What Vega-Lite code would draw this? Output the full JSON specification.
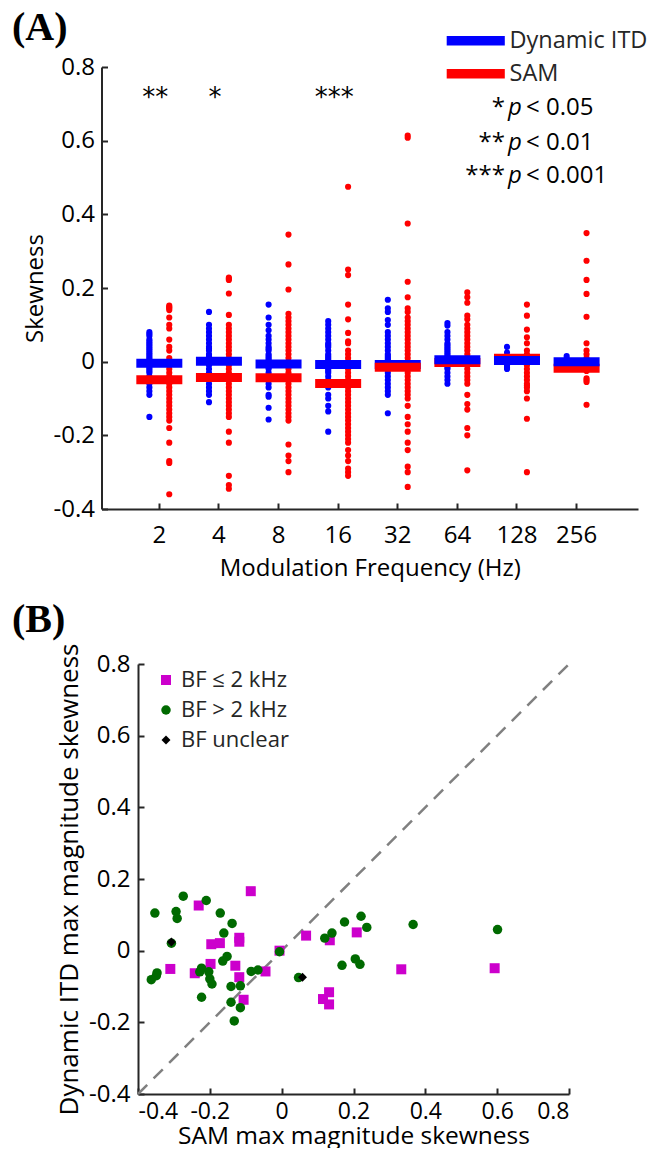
{
  "$schema": "https://vega.github.io/schema/vega-lite/v6.json",
  "background": "white",
  "padding": {"left": 12, "top": 8, "right": 0, "bottom": 0},
  "spacing": 20,
  "resolve": {"scale": {"color": "independent", "shape": "independent", "size": "independent"}, "legend": {"color": "independent", "shape": "independent"}},
  "config": {
    "view": {"stroke": null},
    "font": "Open Sans",
    "axis": {"domainColor": "#262626", "domainWidth": 2, "tickColor": "#262626", "tickWidth": 2, "tickSize": -6, "labelColor": "#000000", "titleColor": "#000000", "grid": false, "labelFont": "Open Sans", "titleFont": "Open Sans", "titleFontWeight": "normal"},
    "title": {"font": "Liberation Serif", "fontWeight": "bold", "fontSize": 40, "anchor": "start", "frame": "group", "color": "#000000", "baseline": "alphabetic"},
    "legend": {"padding": 0, "offset": 0}
  },
  "datasets": {
    "pts": [
      {"f":"2","s":"Dynamic ITD","v":0.08},{"f":"2","s":"Dynamic ITD","v":0.075},{"f":"2","s":"Dynamic ITD","v":0.07},{"f":"2","s":"Dynamic ITD","v":0.06},{"f":"2","s":"Dynamic ITD","v":0.055},{"f":"2","s":"Dynamic ITD","v":0.05},{"f":"2","s":"Dynamic ITD","v":0.045},{"f":"2","s":"Dynamic ITD","v":0.04},{"f":"2","s":"Dynamic ITD","v":0.035},{"f":"2","s":"Dynamic ITD","v":0.03},{"f":"2","s":"Dynamic ITD","v":0.025},{"f":"2","s":"Dynamic ITD","v":0.02},{"f":"2","s":"Dynamic ITD","v":0.015},{"f":"2","s":"Dynamic ITD","v":0.01},{"f":"2","s":"Dynamic ITD","v":0.005},{"f":"2","s":"Dynamic ITD","v":0.0},{"f":"2","s":"Dynamic ITD","v":0.0},{"f":"2","s":"Dynamic ITD","v":-0.005},{"f":"2","s":"Dynamic ITD","v":-0.01},{"f":"2","s":"Dynamic ITD","v":-0.015},{"f":"2","s":"Dynamic ITD","v":-0.02},{"f":"2","s":"Dynamic ITD","v":-0.025},{"f":"2","s":"Dynamic ITD","v":-0.03},{"f":"2","s":"Dynamic ITD","v":-0.04},{"f":"2","s":"Dynamic ITD","v":-0.05},{"f":"2","s":"Dynamic ITD","v":-0.06},{"f":"2","s":"Dynamic ITD","v":-0.07},{"f":"2","s":"Dynamic ITD","v":-0.08},{"f":"2","s":"Dynamic ITD","v":-0.09},{"f":"2","s":"Dynamic ITD","v":-0.15},
      {"f":"2","s":"SAM","v":0.152},{"f":"2","s":"SAM","v":0.148},{"f":"2","s":"SAM","v":0.145},{"f":"2","s":"SAM","v":0.14},{"f":"2","s":"SAM","v":0.12},{"f":"2","s":"SAM","v":0.1},{"f":"2","s":"SAM","v":0.09},{"f":"2","s":"SAM","v":0.06},{"f":"2","s":"SAM","v":0.04},{"f":"2","s":"SAM","v":0.03},{"f":"2","s":"SAM","v":0.01},{"f":"2","s":"SAM","v":0.0},{"f":"2","s":"SAM","v":-0.01},{"f":"2","s":"SAM","v":-0.02},{"f":"2","s":"SAM","v":-0.03},{"f":"2","s":"SAM","v":-0.04},{"f":"2","s":"SAM","v":-0.045},{"f":"2","s":"SAM","v":-0.05},{"f":"2","s":"SAM","v":-0.055},{"f":"2","s":"SAM","v":-0.06},{"f":"2","s":"SAM","v":-0.07},{"f":"2","s":"SAM","v":-0.08},{"f":"2","s":"SAM","v":-0.09},{"f":"2","s":"SAM","v":-0.1},{"f":"2","s":"SAM","v":-0.11},{"f":"2","s":"SAM","v":-0.12},{"f":"2","s":"SAM","v":-0.13},{"f":"2","s":"SAM","v":-0.14},{"f":"2","s":"SAM","v":-0.15},{"f":"2","s":"SAM","v":-0.16},{"f":"2","s":"SAM","v":-0.18},{"f":"2","s":"SAM","v":-0.22},{"f":"2","s":"SAM","v":-0.27},{"f":"2","s":"SAM","v":-0.275},{"f":"2","s":"SAM","v":-0.36},
      {"f":"4","s":"Dynamic ITD","v":0.135},{"f":"4","s":"Dynamic ITD","v":0.1},{"f":"4","s":"Dynamic ITD","v":0.09},{"f":"4","s":"Dynamic ITD","v":0.08},{"f":"4","s":"Dynamic ITD","v":0.07},{"f":"4","s":"Dynamic ITD","v":0.06},{"f":"4","s":"Dynamic ITD","v":0.05},{"f":"4","s":"Dynamic ITD","v":0.04},{"f":"4","s":"Dynamic ITD","v":0.035},{"f":"4","s":"Dynamic ITD","v":0.03},{"f":"4","s":"Dynamic ITD","v":0.02},{"f":"4","s":"Dynamic ITD","v":0.015},{"f":"4","s":"Dynamic ITD","v":0.01},{"f":"4","s":"Dynamic ITD","v":0.005},{"f":"4","s":"Dynamic ITD","v":0.0},{"f":"4","s":"Dynamic ITD","v":-0.005},{"f":"4","s":"Dynamic ITD","v":-0.01},{"f":"4","s":"Dynamic ITD","v":-0.02},{"f":"4","s":"Dynamic ITD","v":-0.03},{"f":"4","s":"Dynamic ITD","v":-0.04},{"f":"4","s":"Dynamic ITD","v":-0.06},{"f":"4","s":"Dynamic ITD","v":-0.07},{"f":"4","s":"Dynamic ITD","v":-0.08},{"f":"4","s":"Dynamic ITD","v":-0.09},{"f":"4","s":"Dynamic ITD","v":-0.11},
      {"f":"4","s":"SAM","v":0.228},{"f":"4","s":"SAM","v":0.225},{"f":"4","s":"SAM","v":0.222},{"f":"4","s":"SAM","v":0.185},{"f":"4","s":"SAM","v":0.127},{"f":"4","s":"SAM","v":0.1},{"f":"4","s":"SAM","v":0.09},{"f":"4","s":"SAM","v":0.08},{"f":"4","s":"SAM","v":0.07},{"f":"4","s":"SAM","v":0.06},{"f":"4","s":"SAM","v":0.05},{"f":"4","s":"SAM","v":0.04},{"f":"4","s":"SAM","v":0.03},{"f":"4","s":"SAM","v":0.02},{"f":"4","s":"SAM","v":0.01},{"f":"4","s":"SAM","v":0.0},{"f":"4","s":"SAM","v":-0.01},{"f":"4","s":"SAM","v":-0.02},{"f":"4","s":"SAM","v":-0.03},{"f":"4","s":"SAM","v":-0.04},{"f":"4","s":"SAM","v":-0.045},{"f":"4","s":"SAM","v":-0.05},{"f":"4","s":"SAM","v":-0.06},{"f":"4","s":"SAM","v":-0.07},{"f":"4","s":"SAM","v":-0.08},{"f":"4","s":"SAM","v":-0.09},{"f":"4","s":"SAM","v":-0.1},{"f":"4","s":"SAM","v":-0.11},{"f":"4","s":"SAM","v":-0.12},{"f":"4","s":"SAM","v":-0.13},{"f":"4","s":"SAM","v":-0.14},{"f":"4","s":"SAM","v":-0.15},{"f":"4","s":"SAM","v":-0.19},{"f":"4","s":"SAM","v":-0.22},{"f":"4","s":"SAM","v":-0.31},{"f":"4","s":"SAM","v":-0.335},{"f":"4","s":"SAM","v":-0.345},
      {"f":"8","s":"Dynamic ITD","v":0.155},{"f":"8","s":"Dynamic ITD","v":0.12},{"f":"8","s":"Dynamic ITD","v":0.1},{"f":"8","s":"Dynamic ITD","v":0.085},{"f":"8","s":"Dynamic ITD","v":0.07},{"f":"8","s":"Dynamic ITD","v":0.06},{"f":"8","s":"Dynamic ITD","v":0.05},{"f":"8","s":"Dynamic ITD","v":0.04},{"f":"8","s":"Dynamic ITD","v":0.035},{"f":"8","s":"Dynamic ITD","v":0.03},{"f":"8","s":"Dynamic ITD","v":0.02},{"f":"8","s":"Dynamic ITD","v":0.015},{"f":"8","s":"Dynamic ITD","v":0.01},{"f":"8","s":"Dynamic ITD","v":0.005},{"f":"8","s":"Dynamic ITD","v":0.0},{"f":"8","s":"Dynamic ITD","v":-0.005},{"f":"8","s":"Dynamic ITD","v":-0.01},{"f":"8","s":"Dynamic ITD","v":-0.015},{"f":"8","s":"Dynamic ITD","v":-0.02},{"f":"8","s":"Dynamic ITD","v":-0.03},{"f":"8","s":"Dynamic ITD","v":-0.04},{"f":"8","s":"Dynamic ITD","v":-0.05},{"f":"8","s":"Dynamic ITD","v":-0.06},{"f":"8","s":"Dynamic ITD","v":-0.07},{"f":"8","s":"Dynamic ITD","v":-0.09},{"f":"8","s":"Dynamic ITD","v":-0.095},{"f":"8","s":"Dynamic ITD","v":-0.125},{"f":"8","s":"Dynamic ITD","v":-0.157},
      {"f":"8","s":"SAM","v":0.345},{"f":"8","s":"SAM","v":0.264},{"f":"8","s":"SAM","v":0.196},{"f":"8","s":"SAM","v":0.13},{"f":"8","s":"SAM","v":0.12},{"f":"8","s":"SAM","v":0.11},{"f":"8","s":"SAM","v":0.1},{"f":"8","s":"SAM","v":0.09},{"f":"8","s":"SAM","v":0.08},{"f":"8","s":"SAM","v":0.07},{"f":"8","s":"SAM","v":0.06},{"f":"8","s":"SAM","v":0.05},{"f":"8","s":"SAM","v":0.04},{"f":"8","s":"SAM","v":0.03},{"f":"8","s":"SAM","v":0.02},{"f":"8","s":"SAM","v":0.01},{"f":"8","s":"SAM","v":0.0},{"f":"8","s":"SAM","v":-0.01},{"f":"8","s":"SAM","v":-0.02},{"f":"8","s":"SAM","v":-0.03},{"f":"8","s":"SAM","v":-0.04},{"f":"8","s":"SAM","v":-0.05},{"f":"8","s":"SAM","v":-0.06},{"f":"8","s":"SAM","v":-0.07},{"f":"8","s":"SAM","v":-0.08},{"f":"8","s":"SAM","v":-0.09},{"f":"8","s":"SAM","v":-0.1},{"f":"8","s":"SAM","v":-0.11},{"f":"8","s":"SAM","v":-0.12},{"f":"8","s":"SAM","v":-0.13},{"f":"8","s":"SAM","v":-0.14},{"f":"8","s":"SAM","v":-0.15},{"f":"8","s":"SAM","v":-0.16},{"f":"8","s":"SAM","v":-0.225},{"f":"8","s":"SAM","v":-0.255},{"f":"8","s":"SAM","v":-0.27},{"f":"8","s":"SAM","v":-0.3},
      {"f":"16","s":"Dynamic ITD","v":0.11},{"f":"16","s":"Dynamic ITD","v":0.1},{"f":"16","s":"Dynamic ITD","v":0.09},{"f":"16","s":"Dynamic ITD","v":0.08},{"f":"16","s":"Dynamic ITD","v":0.07},{"f":"16","s":"Dynamic ITD","v":0.06},{"f":"16","s":"Dynamic ITD","v":0.05},{"f":"16","s":"Dynamic ITD","v":0.045},{"f":"16","s":"Dynamic ITD","v":0.04},{"f":"16","s":"Dynamic ITD","v":0.03},{"f":"16","s":"Dynamic ITD","v":0.02},{"f":"16","s":"Dynamic ITD","v":0.015},{"f":"16","s":"Dynamic ITD","v":0.01},{"f":"16","s":"Dynamic ITD","v":0.005},{"f":"16","s":"Dynamic ITD","v":0.0},{"f":"16","s":"Dynamic ITD","v":-0.005},{"f":"16","s":"Dynamic ITD","v":-0.01},{"f":"16","s":"Dynamic ITD","v":-0.02},{"f":"16","s":"Dynamic ITD","v":-0.025},{"f":"16","s":"Dynamic ITD","v":-0.03},{"f":"16","s":"Dynamic ITD","v":-0.04},{"f":"16","s":"Dynamic ITD","v":-0.05},{"f":"16","s":"Dynamic ITD","v":-0.06},{"f":"16","s":"Dynamic ITD","v":-0.07},{"f":"16","s":"Dynamic ITD","v":-0.09},{"f":"16","s":"Dynamic ITD","v":-0.1},{"f":"16","s":"Dynamic ITD","v":-0.12},{"f":"16","s":"Dynamic ITD","v":-0.135},{"f":"16","s":"Dynamic ITD","v":-0.19},
      {"f":"16","s":"SAM","v":0.475},{"f":"16","s":"SAM","v":0.25},{"f":"16","s":"SAM","v":0.235},{"f":"16","s":"SAM","v":0.155},{"f":"16","s":"SAM","v":0.115},{"f":"16","s":"SAM","v":0.078},{"f":"16","s":"SAM","v":0.055},{"f":"16","s":"SAM","v":0.05},{"f":"16","s":"SAM","v":0.03},{"f":"16","s":"SAM","v":0.02},{"f":"16","s":"SAM","v":0.01},{"f":"16","s":"SAM","v":0.0},{"f":"16","s":"SAM","v":-0.01},{"f":"16","s":"SAM","v":-0.02},{"f":"16","s":"SAM","v":-0.03},{"f":"16","s":"SAM","v":-0.04},{"f":"16","s":"SAM","v":-0.05},{"f":"16","s":"SAM","v":-0.055},{"f":"16","s":"SAM","v":-0.06},{"f":"16","s":"SAM","v":-0.065},{"f":"16","s":"SAM","v":-0.07},{"f":"16","s":"SAM","v":-0.08},{"f":"16","s":"SAM","v":-0.09},{"f":"16","s":"SAM","v":-0.1},{"f":"16","s":"SAM","v":-0.11},{"f":"16","s":"SAM","v":-0.12},{"f":"16","s":"SAM","v":-0.13},{"f":"16","s":"SAM","v":-0.14},{"f":"16","s":"SAM","v":-0.15},{"f":"16","s":"SAM","v":-0.16},{"f":"16","s":"SAM","v":-0.17},{"f":"16","s":"SAM","v":-0.18},{"f":"16","s":"SAM","v":-0.19},{"f":"16","s":"SAM","v":-0.2},{"f":"16","s":"SAM","v":-0.21},{"f":"16","s":"SAM","v":-0.22},{"f":"16","s":"SAM","v":-0.24},{"f":"16","s":"SAM","v":-0.255},{"f":"16","s":"SAM","v":-0.27},{"f":"16","s":"SAM","v":-0.29},{"f":"16","s":"SAM","v":-0.3},{"f":"16","s":"SAM","v":-0.31},
      {"f":"32","s":"Dynamic ITD","v":0.168},{"f":"32","s":"Dynamic ITD","v":0.145},{"f":"32","s":"Dynamic ITD","v":0.135},{"f":"32","s":"Dynamic ITD","v":0.113},{"f":"32","s":"Dynamic ITD","v":0.1},{"f":"32","s":"Dynamic ITD","v":0.08},{"f":"32","s":"Dynamic ITD","v":0.07},{"f":"32","s":"Dynamic ITD","v":0.06},{"f":"32","s":"Dynamic ITD","v":0.05},{"f":"32","s":"Dynamic ITD","v":0.04},{"f":"32","s":"Dynamic ITD","v":0.03},{"f":"32","s":"Dynamic ITD","v":0.02},{"f":"32","s":"Dynamic ITD","v":0.015},{"f":"32","s":"Dynamic ITD","v":0.01},{"f":"32","s":"Dynamic ITD","v":0.005},{"f":"32","s":"Dynamic ITD","v":0.0},{"f":"32","s":"Dynamic ITD","v":-0.005},{"f":"32","s":"Dynamic ITD","v":-0.01},{"f":"32","s":"Dynamic ITD","v":-0.02},{"f":"32","s":"Dynamic ITD","v":-0.03},{"f":"32","s":"Dynamic ITD","v":-0.04},{"f":"32","s":"Dynamic ITD","v":-0.05},{"f":"32","s":"Dynamic ITD","v":-0.06},{"f":"32","s":"Dynamic ITD","v":-0.07},{"f":"32","s":"Dynamic ITD","v":-0.08},{"f":"32","s":"Dynamic ITD","v":-0.09},{"f":"32","s":"Dynamic ITD","v":-0.14},
      {"f":"32","s":"SAM","v":0.614},{"f":"32","s":"SAM","v":0.608},{"f":"32","s":"SAM","v":0.375},{"f":"32","s":"SAM","v":0.217},{"f":"32","s":"SAM","v":0.175},{"f":"32","s":"SAM","v":0.145},{"f":"32","s":"SAM","v":0.135},{"f":"32","s":"SAM","v":0.12},{"f":"32","s":"SAM","v":0.11},{"f":"32","s":"SAM","v":0.1},{"f":"32","s":"SAM","v":0.09},{"f":"32","s":"SAM","v":0.08},{"f":"32","s":"SAM","v":0.07},{"f":"32","s":"SAM","v":0.06},{"f":"32","s":"SAM","v":0.05},{"f":"32","s":"SAM","v":0.04},{"f":"32","s":"SAM","v":0.03},{"f":"32","s":"SAM","v":0.02},{"f":"32","s":"SAM","v":0.01},{"f":"32","s":"SAM","v":0.0},{"f":"32","s":"SAM","v":-0.005},{"f":"32","s":"SAM","v":-0.01},{"f":"32","s":"SAM","v":-0.02},{"f":"32","s":"SAM","v":-0.03},{"f":"32","s":"SAM","v":-0.04},{"f":"32","s":"SAM","v":-0.05},{"f":"32","s":"SAM","v":-0.06},{"f":"32","s":"SAM","v":-0.07},{"f":"32","s":"SAM","v":-0.08},{"f":"32","s":"SAM","v":-0.09},{"f":"32","s":"SAM","v":-0.1},{"f":"32","s":"SAM","v":-0.12},{"f":"32","s":"SAM","v":-0.15},{"f":"32","s":"SAM","v":-0.17},{"f":"32","s":"SAM","v":-0.19},{"f":"32","s":"SAM","v":-0.22},{"f":"32","s":"SAM","v":-0.24},{"f":"32","s":"SAM","v":-0.285},{"f":"32","s":"SAM","v":-0.3},{"f":"32","s":"SAM","v":-0.34},
      {"f":"64","s":"Dynamic ITD","v":0.105},{"f":"64","s":"Dynamic ITD","v":0.098},{"f":"64","s":"Dynamic ITD","v":0.08},{"f":"64","s":"Dynamic ITD","v":0.07},{"f":"64","s":"Dynamic ITD","v":0.06},{"f":"64","s":"Dynamic ITD","v":0.05},{"f":"64","s":"Dynamic ITD","v":0.045},{"f":"64","s":"Dynamic ITD","v":0.04},{"f":"64","s":"Dynamic ITD","v":0.035},{"f":"64","s":"Dynamic ITD","v":0.03},{"f":"64","s":"Dynamic ITD","v":0.025},{"f":"64","s":"Dynamic ITD","v":0.02},{"f":"64","s":"Dynamic ITD","v":0.015},{"f":"64","s":"Dynamic ITD","v":0.01},{"f":"64","s":"Dynamic ITD","v":0.005},{"f":"64","s":"Dynamic ITD","v":0.0},{"f":"64","s":"Dynamic ITD","v":-0.005},{"f":"64","s":"Dynamic ITD","v":-0.01},{"f":"64","s":"Dynamic ITD","v":-0.015},{"f":"64","s":"Dynamic ITD","v":-0.02},{"f":"64","s":"Dynamic ITD","v":-0.03},{"f":"64","s":"Dynamic ITD","v":-0.04},{"f":"64","s":"Dynamic ITD","v":-0.05},{"f":"64","s":"Dynamic ITD","v":-0.06},
      {"f":"64","s":"SAM","v":0.188},{"f":"64","s":"SAM","v":0.175},{"f":"64","s":"SAM","v":0.16},{"f":"64","s":"SAM","v":0.125},{"f":"64","s":"SAM","v":0.115},{"f":"64","s":"SAM","v":0.1},{"f":"64","s":"SAM","v":0.09},{"f":"64","s":"SAM","v":0.08},{"f":"64","s":"SAM","v":0.07},{"f":"64","s":"SAM","v":0.06},{"f":"64","s":"SAM","v":0.05},{"f":"64","s":"SAM","v":0.04},{"f":"64","s":"SAM","v":0.03},{"f":"64","s":"SAM","v":0.02},{"f":"64","s":"SAM","v":0.01},{"f":"64","s":"SAM","v":0.0},{"f":"64","s":"SAM","v":-0.01},{"f":"64","s":"SAM","v":-0.02},{"f":"64","s":"SAM","v":-0.03},{"f":"64","s":"SAM","v":-0.04},{"f":"64","s":"SAM","v":-0.05},{"f":"64","s":"SAM","v":-0.06},{"f":"64","s":"SAM","v":-0.09},{"f":"64","s":"SAM","v":-0.115},{"f":"64","s":"SAM","v":-0.13},{"f":"64","s":"SAM","v":-0.18},{"f":"64","s":"SAM","v":-0.2},{"f":"64","s":"SAM","v":-0.295},
      {"f":"128","s":"Dynamic ITD","v":0.04},{"f":"128","s":"Dynamic ITD","v":0.025},{"f":"128","s":"Dynamic ITD","v":0.015},{"f":"128","s":"Dynamic ITD","v":0.005},{"f":"128","s":"Dynamic ITD","v":0.0},{"f":"128","s":"Dynamic ITD","v":-0.005},{"f":"128","s":"Dynamic ITD","v":-0.01},{"f":"128","s":"Dynamic ITD","v":-0.015},{"f":"128","s":"Dynamic ITD","v":-0.02},
      {"f":"128","s":"SAM","v":0.155},{"f":"128","s":"SAM","v":0.125},{"f":"128","s":"SAM","v":0.087},{"f":"128","s":"SAM","v":0.066},{"f":"128","s":"SAM","v":0.05},{"f":"128","s":"SAM","v":0.03},{"f":"128","s":"SAM","v":0.02},{"f":"128","s":"SAM","v":0.015},{"f":"128","s":"SAM","v":0.01},{"f":"128","s":"SAM","v":0.005},{"f":"128","s":"SAM","v":0.0},{"f":"128","s":"SAM","v":-0.01},{"f":"128","s":"SAM","v":-0.02},{"f":"128","s":"SAM","v":-0.03},{"f":"128","s":"SAM","v":-0.04},{"f":"128","s":"SAM","v":-0.05},{"f":"128","s":"SAM","v":-0.06},{"f":"128","s":"SAM","v":-0.065},{"f":"128","s":"SAM","v":-0.07},{"f":"128","s":"SAM","v":-0.08},{"f":"128","s":"SAM","v":-0.1},{"f":"128","s":"SAM","v":-0.155},{"f":"128","s":"SAM","v":-0.3},
      {"f":"256","s":"Dynamic ITD","v":0.015},{"f":"256","s":"Dynamic ITD","v":0.008},{"f":"256","s":"Dynamic ITD","v":0.0},{"f":"256","s":"Dynamic ITD","v":-0.005},{"f":"256","s":"Dynamic ITD","v":-0.01},{"f":"256","s":"Dynamic ITD","v":-0.015},
      {"f":"256","s":"SAM","v":0.349},{"f":"256","s":"SAM","v":0.274},{"f":"256","s":"SAM","v":0.222},{"f":"256","s":"SAM","v":0.184},{"f":"256","s":"SAM","v":0.122},{"f":"256","s":"SAM","v":0.05},{"f":"256","s":"SAM","v":0.03},{"f":"256","s":"SAM","v":0.02},{"f":"256","s":"SAM","v":0.01},{"f":"256","s":"SAM","v":0.0},{"f":"256","s":"SAM","v":-0.01},{"f":"256","s":"SAM","v":-0.015},{"f":"256","s":"SAM","v":-0.02},{"f":"256","s":"SAM","v":-0.025},{"f":"256","s":"SAM","v":-0.045},{"f":"256","s":"SAM","v":-0.05},{"f":"256","s":"SAM","v":-0.055},{"f":"256","s":"SAM","v":-0.117}
    ],
    "med": [
      {"f":"2","s":"Dynamic ITD","v":-0.004},{"f":"2","s":"SAM","v":-0.049},
      {"f":"4","s":"Dynamic ITD","v":0.001},{"f":"4","s":"SAM","v":-0.043},
      {"f":"8","s":"Dynamic ITD","v":-0.006},{"f":"8","s":"SAM","v":-0.044},
      {"f":"16","s":"Dynamic ITD","v":-0.008},{"f":"16","s":"SAM","v":-0.059},
      {"f":"32","s":"Dynamic ITD","v":-0.008},{"f":"32","s":"SAM","v":-0.015},
      {"f":"64","s":"SAM","v":-0.002},{"f":"64","s":"Dynamic ITD","v":0.005},
      {"f":"128","s":"SAM","v":0.009},{"f":"128","s":"Dynamic ITD","v":0.003},
      {"f":"256","s":"SAM","v":-0.018},{"f":"256","s":"Dynamic ITD","v":0.0}
    ],
    "stars": [
      {"f":"2","label":"**"},{"f":"4","label":"*"},{"f":"16","label":"***"}
    ],
    "plab": [
      {"stars":"*","rest":"< 0.05","v":0.69},
      {"stars":"**","rest":"< 0.01","v":0.595},
      {"stars":"***","rest":"< 0.001","v":0.503}
    ],
    "diag": [{"x":-0.4,"y":-0.4,"x2":0.8,"y2":0.8}],
    "bf": [
      {"g":"BF ≤ 2 kHz","x":-0.086,"y":0.166},{"g":"BF ≤ 2 kHz","x":-0.231,"y":0.126},{"g":"BF ≤ 2 kHz","x":-0.196,"y":0.018},{"g":"BF ≤ 2 kHz","x":-0.172,"y":0.021},{"g":"BF ≤ 2 kHz","x":-0.118,"y":0.036},{"g":"BF ≤ 2 kHz","x":-0.118,"y":0.025},{"g":"BF ≤ 2 kHz","x":-0.31,"y":-0.051},{"g":"BF ≤ 2 kHz","x":-0.242,"y":-0.063},{"g":"BF ≤ 2 kHz","x":-0.198,"y":-0.037},{"g":"BF ≤ 2 kHz","x":-0.129,"y":-0.042},{"g":"BF ≤ 2 kHz","x":-0.118,"y":-0.074},{"g":"BF ≤ 2 kHz","x":-0.106,"y":-0.137},{"g":"BF ≤ 2 kHz","x":-0.045,"y":-0.058},{"g":"BF ≤ 2 kHz","x":-0.006,"y":0.0},{"g":"BF ≤ 2 kHz","x":0.068,"y":0.042},{"g":"BF ≤ 2 kHz","x":0.134,"y":0.029},{"g":"BF ≤ 2 kHz","x":0.209,"y":0.051},{"g":"BF ≤ 2 kHz","x":0.333,"y":-0.052},{"g":"BF ≤ 2 kHz","x":0.593,"y":-0.049},{"g":"BF ≤ 2 kHz","x":0.132,"y":-0.116},{"g":"BF ≤ 2 kHz","x":0.115,"y":-0.135},{"g":"BF ≤ 2 kHz","x":0.132,"y":-0.15},
      {"g":"BF > 2 kHz","x":-0.274,"y":0.152},{"g":"BF > 2 kHz","x":-0.21,"y":0.14},{"g":"BF > 2 kHz","x":-0.353,"y":0.105},{"g":"BF > 2 kHz","x":-0.294,"y":0.109},{"g":"BF > 2 kHz","x":-0.291,"y":0.09},{"g":"BF > 2 kHz","x":-0.171,"y":0.105},{"g":"BF > 2 kHz","x":-0.138,"y":0.076},{"g":"BF > 2 kHz","x":-0.161,"y":0.049},{"g":"BF > 2 kHz","x":-0.307,"y":0.021},{"g":"BF > 2 kHz","x":-0.152,"y":-0.016},{"g":"BF > 2 kHz","x":-0.164,"y":-0.029},{"g":"BF > 2 kHz","x":-0.223,"y":-0.049},{"g":"BF > 2 kHz","x":-0.228,"y":-0.059},{"g":"BF > 2 kHz","x":-0.203,"y":-0.059},{"g":"BF > 2 kHz","x":-0.2,"y":-0.079},{"g":"BF > 2 kHz","x":-0.194,"y":-0.093},{"g":"BF > 2 kHz","x":-0.347,"y":-0.062},{"g":"BF > 2 kHz","x":-0.349,"y":-0.07},{"g":"BF > 2 kHz","x":-0.363,"y":-0.081},{"g":"BF > 2 kHz","x":-0.085,"y":-0.058},{"g":"BF > 2 kHz","x":-0.066,"y":-0.054},{"g":"BF > 2 kHz","x":-0.141,"y":-0.1},{"g":"BF > 2 kHz","x":-0.115,"y":-0.098},{"g":"BF > 2 kHz","x":-0.223,"y":-0.13},{"g":"BF > 2 kHz","x":-0.141,"y":-0.144},{"g":"BF > 2 kHz","x":-0.115,"y":-0.159},{"g":"BF > 2 kHz","x":-0.132,"y":-0.196},{"g":"BF > 2 kHz","x":-0.006,"y":-0.003},{"g":"BF > 2 kHz","x":0.047,"y":-0.075},{"g":"BF > 2 kHz","x":0.12,"y":0.035},{"g":"BF > 2 kHz","x":0.14,"y":0.049},{"g":"BF > 2 kHz","x":0.175,"y":0.08},{"g":"BF > 2 kHz","x":0.221,"y":0.096},{"g":"BF > 2 kHz","x":0.237,"y":0.065},{"g":"BF > 2 kHz","x":0.366,"y":0.073},{"g":"BF > 2 kHz","x":0.601,"y":0.059},{"g":"BF > 2 kHz","x":0.168,"y":-0.041},{"g":"BF > 2 kHz","x":0.205,"y":-0.023},{"g":"BF > 2 kHz","x":0.218,"y":-0.038},
      {"g":"BF unclear","x":-0.307,"y":0.024},{"g":"BF unclear","x":0.058,"y":-0.074}
    ]
  },
  "vconcat": [
    {
      "width": 500,
      "height": 442,
      "title": {"text": "(A)", "dx": -126, "offset": -19},
      "layer": [
        {
          "data": {"name": "pts"},
          "mark": {"type": "circle", "size": 38, "opacity": 1},
          "encoding": {
            "x": {"field": "f", "type": "ordinal", "scale": {"domain": ["2","4","8","16","32","64","128","256"], "range": [-36.5, 500], "paddingInner": 0, "paddingOuter": 0.5, "align": 0.47},
                  "axis": {"title": "Modulation Frequency (Hz)", "labelAngle": 0, "labelFontSize": 24, "titleFontSize": 24, "labelPadding": 20, "titlePadding": 9, "bandPosition": 0.5}},
            "xOffset": {"field": "s", "type": "nominal", "scale": {"domain": ["Dynamic ITD","SAM"], "paddingInner": 0, "paddingOuter": 1.475}},
            "y": {"field": "v", "type": "quantitative", "scale": {"domain": [-0.4, 0.8], "nice": false},
                  "axis": {"title": "Skewness", "offset": 36.5, "values": [-0.4,-0.2,0,0.2,0.4,0.6,0.8], "labelExpr": "replace(format(datum.value, '.1~f'), '\u2212', '-')", "labelFontSize": 24, "titleFontSize": 24, "labelPadding": 13, "titlePadding": 6}},
            "color": {"field": "s", "type": "nominal", "scale": {"domain": ["Dynamic ITD","SAM"], "range": ["#0000ff","#ff0000"]},
                      "legend": {"orient": "none", "legendX": 326, "legendY": -38, "title": null, "symbolType": "M-5,-0.8L5,-0.8L5,0.8L-5,0.8Z", "symbolSize": 135, "symbolStrokeWidth": 0, "symbolOpacity": 1, "labelFontSize": 23.5, "labelFont": "Open Sans", "labelColor": "#262626", "labelOffset": 22, "labelLimit": 300, "rowPadding": 8}}
          }
        },
        {
          "data": {"name": "med"},
          "mark": {"type": "tick", "size": 46, "thickness": 9, "opacity": 1},
          "encoding": {
            "x": {"field": "f", "type": "ordinal"},
            "y": {"field": "v", "type": "quantitative"},
            "color": {"field": "s", "type": "nominal"}
          }
        },
        {
          "data": {"name": "stars"},
          "mark": {"type": "text", "fontSize": 26, "font": "DejaVu Sans", "baseline": "middle", "dx": -4, "color": "#000000"},
          "encoding": {
            "x": {"field": "f", "type": "ordinal"},
            "y": {"datum": 0.715},
            "text": {"field": "label"}
          }
        },
        {
          "data": {"name": "plab"},
          "mark": {"type": "text", "fontSize": 24, "font": "Open Sans", "align": "right", "baseline": "middle", "dx": -12, "color": "#000000"},
          "encoding": {"x": {"datum": "128"}, "y": {"field": "v", "type": "quantitative"}, "text": {"field": "stars"}}
        },
        {
          "data": {"name": "plab"},
          "mark": {"type": "text", "fontSize": 24, "font": "Open Sans", "fontStyle": "italic", "align": "center", "baseline": "middle", "dx": -2, "color": "#000000"},
          "encoding": {"x": {"datum": "128"}, "y": {"field": "v", "type": "quantitative"}, "text": {"value": "p"}}
        },
        {
          "data": {"name": "plab"},
          "mark": {"type": "text", "fontSize": 24, "font": "Open Sans", "align": "left", "baseline": "middle", "dx": 9, "color": "#000000"},
          "encoding": {"x": {"datum": "128"}, "y": {"field": "v", "type": "quantitative"}, "text": {"field": "rest"}}
        }
      ]
    },
    {
      "width": 431,
      "height": 430,
      "title": {"text": "(B)", "dx": -126, "offset": 3},
      "layer": [
        {
          "data": {"name": "diag"},
          "mark": {"type": "rule", "color": "#808080", "strokeWidth": 2.5, "strokeDash": [13, 9]},
          "encoding": {
            "x": {"field": "x", "type": "quantitative", "scale": {"domain": [-0.4, 0.8], "nice": false},
                  "axis": {"title": "SAM max magnitude skewness", "values": [-0.4,-0.2,0,0.2,0.4,0.6,0.8], "labelExpr": "replace(format(datum.value, '.1~f'), '\u2212', '-')", "labelFontSize": 23, "titleFontSize": 24.5, "labelPadding": 12, "titlePadding": 1}},
            "y": {"field": "y", "type": "quantitative", "scale": {"domain": [-0.4, 0.8], "nice": false},
                  "axis": {"title": "Dynamic ITD max magnitude skewness", "values": [-0.4,-0.2,0,0.2,0.4,0.6,0.8], "labelExpr": "replace(format(datum.value, '.1~f'), '\u2212', '-')", "labelFontSize": 24, "titleFontSize": 26, "labelPadding": 14, "titlePadding": 6}},
            "x2": {"field": "x2"},
            "y2": {"field": "y2"}
          }
        },
        {
          "data": {"name": "bf"},
          "mark": {"type": "point", "filled": true, "opacity": 1, "strokeWidth": 0},
          "encoding": {
            "x": {"field": "x", "type": "quantitative"},
            "y": {"field": "y", "type": "quantitative"},
            "color": {"field": "g", "type": "nominal", "scale": {"domain": ["BF ≤ 2 kHz","BF > 2 kHz","BF unclear"], "range": ["#cc00cc","#006a00","#000000"]},
                      "legend": {"orient": "none", "legendX": 17, "legendY": 5, "title": null, "labelFontSize": 22, "labelFont": "Open Sans", "labelColor": "#262626", "labelOffset": 4, "rowPadding": 8, "symbolSize": 120, "symbolStrokeWidth": 0, "symbolOpacity": 1}},
            "shape": {"field": "g", "type": "nominal", "scale": {"domain": ["BF ≤ 2 kHz","BF > 2 kHz","BF unclear"], "range": ["square","circle","diamond"]},
                      "legend": {"orient": "none", "legendX": 17, "legendY": 5, "title": null, "labelFontSize": 22, "labelFont": "Open Sans", "labelColor": "#262626", "labelOffset": 4, "rowPadding": 8, "symbolSize": 120, "symbolStrokeWidth": 0, "symbolOpacity": 1}},
            "size": {"field": "g", "type": "nominal", "scale": {"domain": ["BF ≤ 2 kHz","BF > 2 kHz","BF unclear"], "range": [100, 80, 150]}, "legend": null}
          }
        }
      ]
    }
  ]
}
